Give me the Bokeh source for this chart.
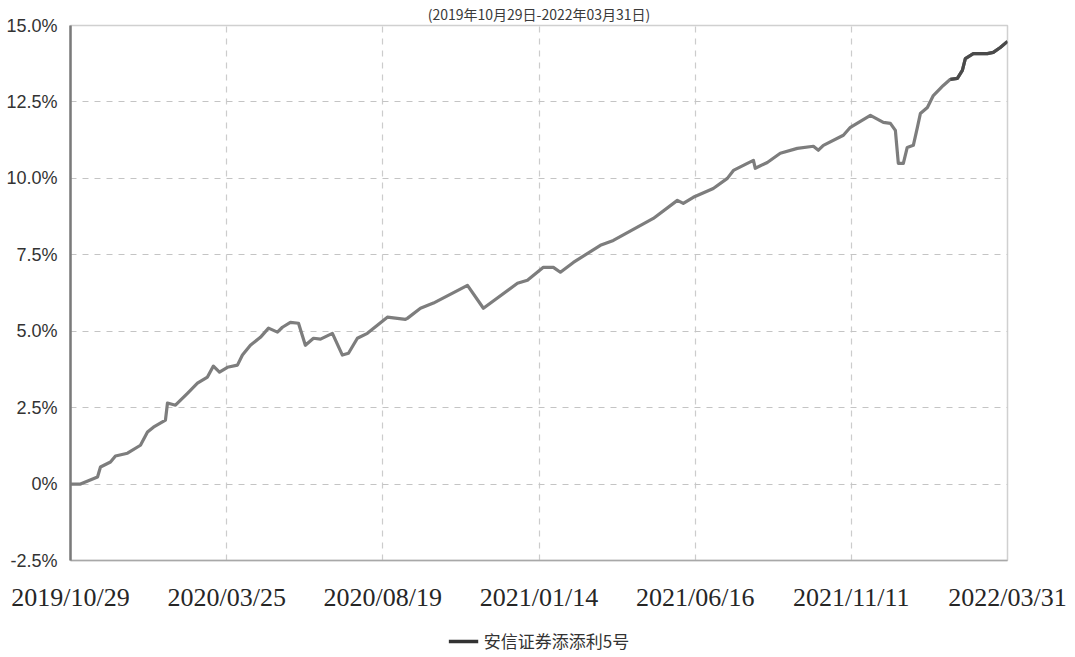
from bokeh.plotting import figure
from bokeh.layouts import column
from bokeh.models import (Range1d, FixedTicker, Legend, LegendItem, Title,
                          ColumnDataSource)
from bokeh.embed import file_html
from bokeh.resources import INLINE

# ---- data -------------------------------------------------------------
series_name = "安信证券添添利5号"
title_text = "(2019年10月29日-2022年03月31日)"
date_labels = ["2019/10/29", "2020/03/25", "2020/08/19", "2021/01/14",
               "2021/06/16", "2021/11/11", "2022/03/31"]
y_ticks = [-2.5, 0, 2.5, 5, 7.5, 10, 12.5, 15]
y_tick_labels = ["-2.5%", "0%", "2.5%", "5.0%", "7.5%", "10.0%", "12.5%", "15.0%"]

# position along the (evenly spaced trading-day) axis, in tick intervals
period_pos = [0.000, 0.064, 0.173, 0.192, 0.256, 0.288, 0.365, 0.448, 0.493,
              0.531, 0.608, 0.621, 0.672, 0.749, 0.813, 0.877, 0.915, 0.954,
              1.005, 1.069, 1.101, 1.152, 1.216, 1.268, 1.325, 1.357, 1.408,
              1.460, 1.504, 1.556, 1.601, 1.677, 1.741, 1.780, 1.837, 1.901,
              2.029, 2.145, 2.157, 2.241, 2.324, 2.542, 2.644, 2.862, 2.926,
              3.028, 3.092, 3.137, 3.220, 3.393, 3.476, 3.732, 3.886, 3.924,
              3.988, 4.116, 4.206, 4.245, 4.334, 4.373, 4.385, 4.462, 4.545,
              4.654, 4.757, 4.789, 4.821, 4.949, 4.994, 5.122, 5.205, 5.250,
              5.282, 5.301, 5.333, 5.358, 5.397, 5.423, 5.442, 5.487, 5.525,
              5.589, 5.634, 5.679, 5.711, 5.730, 5.781, 5.839, 5.871, 5.909,
              5.954, 6.000]
cum_return = [0.00, 0.00, 0.23, 0.56, 0.72, 0.92, 1.01, 1.27, 1.70,
              1.86, 2.09, 2.65, 2.58, 2.97, 3.30, 3.50, 3.86, 3.66,
              3.82, 3.89, 4.22, 4.54, 4.80, 5.10, 4.97, 5.13, 5.29,
              5.26, 4.54, 4.77, 4.74, 4.93, 4.22, 4.28, 4.77, 4.93,
              5.46, 5.39, 5.42, 5.75, 5.92, 6.50, 5.75, 6.57, 6.67,
              7.09, 7.09, 6.93, 7.25, 7.81, 7.97, 8.69, 9.28, 9.18,
              9.38, 9.67, 10.00, 10.26, 10.49, 10.59, 10.33, 10.52, 10.82,
              10.98, 11.05, 10.92, 11.08, 11.41, 11.67, 12.06, 11.83, 11.80,
              11.57, 10.49, 10.49, 11.01, 11.08, 11.67, 12.12, 12.32, 12.71,
              13.04, 13.24, 13.27, 13.53, 13.92, 14.08, 14.08, 14.08, 14.12,
              14.28, 14.48]

LINE_COLOR = "#7d7d7d"
W = 1067

# ---- main figure ------------------------------------------------------
p = figure(width=W, height=621, output_backend="svg", toolbar_location=None,
           x_range=Range1d(0, 6), y_range=Range1d(-2.5, 15),
           min_border_left=70, min_border_right=60, min_border_top=3,
           min_border_bottom=61,
           title=Title(text=title_text, align="center", standoff=3,
                       text_font="Noto Sans CJK SC", text_font_size="14px",
                       text_font_style="normal", text_color="#3a3a3a"))
p.background_fill_color = "white"
p.border_fill_color = "white"
p.outline_line_color = "#d0d0d0"
p.outline_line_width = 1.5

src = ColumnDataSource(dict(x=period_pos, y=cum_return))
p.line("x", "y", source=src, line_color=LINE_COLOR, line_width=3.2,
       line_join="round")
split = next(i for i, v in enumerate(period_pos) if v >= 5.634)
tail = ColumnDataSource(dict(x=period_pos[split:], y=cum_return[split:]))
p.line("x", "y", source=tail, line_color="#4a4a4a", line_width=3.2,
       line_join="round")

# axes
p.xaxis.ticker = FixedTicker(ticks=list(range(len(date_labels))))
p.xaxis.major_label_overrides = {i: s for i, s in enumerate(date_labels)}
p.yaxis.ticker = FixedTicker(ticks=y_ticks)
p.yaxis.major_label_overrides = {t: s for t, s in zip(y_ticks, y_tick_labels)}

for ax in (p.xaxis, p.yaxis):
    ax.major_tick_line_color = None
    ax.minor_tick_line_color = None
p.yaxis.axis_line_color = "#7a7a7a"
p.yaxis.axis_line_width = 2.5
p.xaxis.axis_line_color = "#a8a8a8"
p.xaxis.axis_line_width = 1.5

p.yaxis.major_label_text_font = "Liberation Sans"
p.yaxis.major_label_text_font_size = "18px"
p.yaxis.major_label_text_color = "#333333"
p.yaxis.major_label_standoff = 7

p.xaxis.major_label_text_font = "Liberation Serif"
p.xaxis.major_label_text_font_size = "26px"
p.xaxis.major_label_text_color = "#262626"
p.xaxis.major_label_standoff = 16

# grid
p.ygrid.grid_line_color = "#c4c4c4"
p.ygrid.grid_line_dash = "6 6"
p.ygrid.grid_line_width = 1.2
p.xgrid.grid_line_color = "#cccccc"
p.xgrid.grid_line_dash = "6 6"
p.xgrid.grid_line_width = 1.2

# ---- legend strip -----------------------------------------------------
lg = figure(width=W, height=34, output_backend="svg", toolbar_location=None,
            x_axis_location=None, y_axis_location=None,
            min_border_left=0, min_border_right=0, min_border_top=0,
            min_border_bottom=0, x_range=Range1d(0, 1), y_range=Range1d(0, 1))
lg.outline_line_color = None
lg.xgrid.visible = False
lg.ygrid.visible = False
proxy = lg.line(x=[-5, -4], y=[-5, -5], line_color="#333333", line_width=3.5)
legend = Legend(items=[LegendItem(label=series_name, renderers=[proxy])],
                location="bottom_center", orientation="horizontal",
                border_line_color=None, background_fill_alpha=0,
                padding=0, margin=2, glyph_width=30, glyph_height=20,
                label_standoff=6, label_text_font="Noto Sans CJK SC",
                label_text_font_size="17px", label_text_color="#333333")
lg.add_layout(legend, "center")

layout = column(p, lg, spacing=0)
open("out.html", "w").write(file_html(layout, INLINE))
